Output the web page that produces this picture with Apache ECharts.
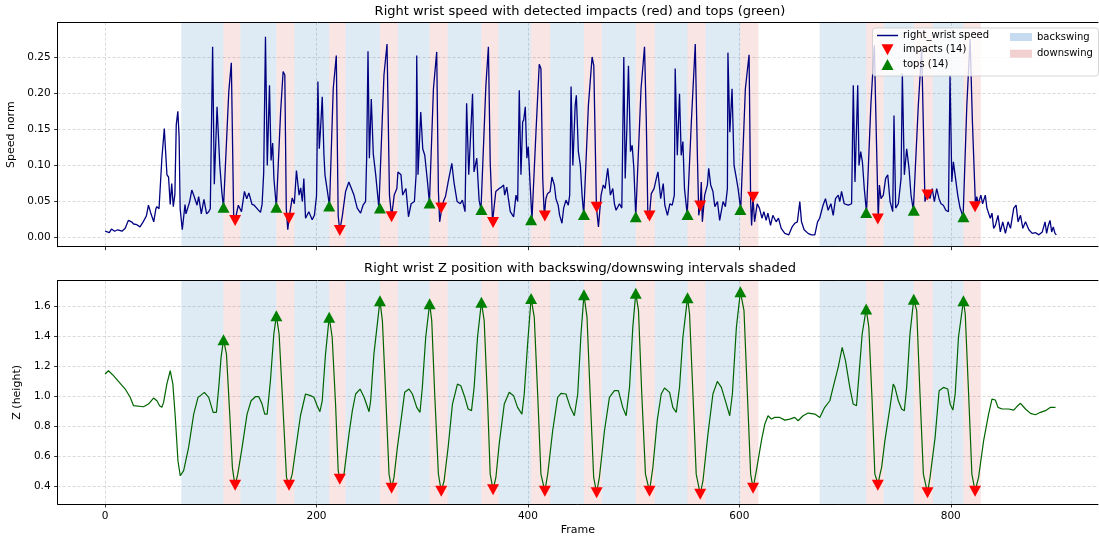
<!DOCTYPE html>
<html>
<head>
<meta charset="utf-8">
<title>Right wrist swings</title>
<script src="https://cdn.jsdelivr.net/npm/echarts@6.0.0/dist/echarts.min.js"></script>
<style>
  html, body { margin: 0; padding: 0; background: #fff; }
  #chart { width: 1099px; height: 536px; }
</style>
</head>
<body>
<div id="chart"></div>
<script>
// [frame, speed]
const speedTrace = [
  [0,0.009],[4,0.007],[6,0.012],[9,0.009],[12,0.011],[16,0.009],[19,0.013],[22,0.024],[25,0.022],[27,0.019],
  [30,0.018],[33,0.015],[36,0.022],[39,0.03],[41,0.045],[43,0.035],[46,0.022],[48,0.04],[49,0.043],[51,0.04],
  [53.7,0.11],[56,0.151],[57,0.125],[58.5,0.087],[60,0.084],[61.6,0.046],[63,0.075],[64.5,0.043],[66,0.06],[67.3,0.156],
  [68.8,0.175],[70,0.14],[71,0.04],[73,0.011],[75.6,0.046],[76.5,0.033],[77.7,0.035],[80,0.05],[82,0.066],[84,0.058],
  [87,0.045],[88.5,0.057],[91,0.033],[93.5,0.053],[96,0.033],[98,0.036],[99.5,0.04],[101.7,0.264],[103.3,0.074],[105.9,0.181],
  [108.5,0.1],[110.5,0.062],[112,0.042],[117,0.202],[119.4,0.242],[121.6,0.031],[123,0.024],[126,0.045],[127.7,0.046],[129,0.036],
  [131.8,0.064],[134,0.054],[136,0.062],[139,0.046],[141,0.045],[144,0.04],[147,0.035],[148.5,0.046],[150,0.089],[151.7,0.278],
  [153.4,0.1],[155.5,0.211],[157,0.107],[158.5,0.131],[159.7,0.082],[162,0.042],[166,0.173],[168.4,0.23],[170,0.225],[171.4,0.04],
  [172.8,0.011],[174,0.027],[177,0.055],[179,0.047],[181,0.093],[183.5,0.059],[185,0.069],[186.6,0.05],[188,0.082],[189.6,0.027],
  [192.7,0.036],[195.9,0.025],[198,0.031],[200,0.058],[201.3,0.216],[202.6,0.123],[203.8,0.15],[205.4,0.195],[207,0.115],[208,0.087],
  [209.4,0.073],[212.3,0.044],[215.8,0.206],[218.7,0.252],[220.5,0.03],[222,0.01],[224.4,0.03],[227.5,0.064],[230.6,0.077],[233,0.068],
  [235.4,0.059],[238.5,0.041],[241.7,0.034],[244,0.045],[246.4,0.05],[247.4,0.109],[248.7,0.258],[250,0.11],[251.8,0.192],[253.7,0.116],
  [256,0.087],[259,0.041],[263.8,0.225],[266.7,0.268],[269,0.059],[271,0.029],[273.5,0.059],[276,0.068],[277,0.091],[279.9,0.087],
  [281.5,0.059],[284.6,0.068],[287,0.029],[289.5,0.047],[292.6,0.05],[294.2,0.087],[294.8,0.252],[296,0.087],[298.6,0.174],[300.5,0.123],
  [302.4,0.114],[305,0.077],[306.8,0.048],[310.6,0.206],[313.7,0.257],[315.3,0.064],[316.5,0.022],[318.5,0.041],[320,0.05],[322,0.057],
  [324.5,0.077],[328,0.103],[330,0.077],[333,0.05],[336,0.047],[338,0.052],[340.5,0.036],[342,0.186],[344,0.087],[347.6,0.199],
  [349,0.091],[351.6,0.11],[353.8,0.052],[355.6,0.039],[360.2,0.21],[362.6,0.264],[364.3,0.105],[366.5,0.022],[369.6,0.064],[372.8,0.068],
  [375,0.07],[377,0.073],[378,0.059],[380,0.07],[381.5,0.054],[383.3,0.036],[386.5,0.029],[388.7,0.059],[390.3,0.05],[391.8,0.204],
  [393.4,0.087],[395,0.16],[396,0.163],[397.5,0.181],[399,0.11],[400.3,0.126],[402.2,0.07],[403.8,0.025],[407.6,0.146],[410.7,0.24],
  [412.3,0.234],[414,0.082],[415.5,0.03],[417,0.054],[418.5,0.061],[421,0.064],[422.7,0.084],[425,0.073],[426.5,0.054],[428.6,0.045],
  [430,0.031],[432.2,0.02],[433.8,0.041],[436,0.052],[438.2,0.045],[439.5,0.059],[440.8,0.209],[442.5,0.1],[444.7,0.183],[445.8,0.197],
  [447.7,0.119],[449.6,0.1],[451.2,0.059],[452.8,0.032],[457.2,0.183],[460.7,0.25],[462.3,0.238],[464.8,0.042],[466.7,0.015],[469.2,0.059],
  [471.3,0.073],[473,0.068],[475.5,0.096],[478,0.059],[480.3,0.068],[481.8,0.047],[483.4,0.038],[486.6,0.047],[488.8,0.041],[490.7,0.25],
  [492,0.082],[493.6,0.151],[495.1,0.238],[497,0.119],[498.6,0.128],[500.2,0.096],[502,0.029],[507,0.206],[510.3,0.264],[512,0.16],
  [513.5,0.027],[515,0.031],[516.7,0.061],[519.3,0.068],[521.5,0.082],[523,0.091],[525.6,0.054],[528,0.075],[529.5,0.045],[532,0.031],
  [534.3,0.047],[536.5,0.045],[538.5,0.059],[539.3,0.234],[541.3,0.114],[543.4,0.199],[545,0.114],[546.6,0.133],[548.1,0.068],[550.7,0.032],
  [554.6,0.16],[558.3,0.268],[560.3,0.114],[561.6,0.031],[563,0.045],[564,0.077],[565,0.022],[567.2,0.059],[569.8,0.073],[571,0.096],
  [572.9,0.073],[575,0.064],[576.8,0.043],[579.3,0.05],[581.4,0.024],[584.6,0.05],[586.8,0.043],[588.7,0.068],[589.2,0.256],[591,0.146],
  [593.1,0.206],[595,0.1],[597.2,0.082],[598.8,0.068],[601.3,0.039],[605.7,0.206],[609.2,0.253],[610.7,0.05],[611.6,0.017],[612.9,0.056],
  [614.4,0.022],[616.9,0.047],[619,0.041],[621.4,0.027],[623.2,0.036],[625.4,0.024],[627,0.034],[629.5,0.017],[631.7,0.031],[634.8,0.022],
  [637,0.027],[639.6,0.013],[643,0.006],[646.8,0.004],[649.9,0.015],[652.4,0.02],[654.9,0.022],[657.2,0.05],[658.8,0.022],[661.3,0.011],
  [665,0.006],[668.2,0.004],[671.4,0.004],[674,0.022],[676,0.027],[679.2,0.045],[681.5,0.054],[684,0.038],[686.6,0.047],[688.8,0.031],
  [691,0.054],[693.6,0.059],[695,0.05],[696.7,0.064],[699.2,0.047],[703,0.045],[706.2,0.047],[707.8,0.211],[709.4,0.077],[712,0.211],
  [713.2,0.1],[714.8,0.119],[716.4,0.105],[718.2,0.068],[720.3,0.035],[724.4,0.183],[727.7,0.266],[729.3,0.16],[731.4,0.026],[732.5,0.073],
  [734,0.054],[736.2,0.059],[738.4,0.082],[740.4,0.087],[742.6,0.05],[745.1,0.036],[746.3,0.169],[747.9,0.041],[750.4,0.047],[753,0.082],
  [754.2,0.227],[756.1,0.087],[758.3,0.123],[760.5,0.096],[762.4,0.059],[764.6,0.038],[769.3,0.183],[772.5,0.261],[774,0.16],[775.6,0.05],
  [777.6,0.059],[778.8,0.064],[780.3,0.054],[782.5,0.068],[784.5,0.05],[786.7,0.068],[788.9,0.054],[790.8,0.047],[793,0.045],[795.3,0.038],
  [797.8,0.036],[799.3,0.225],[801,0.077],[802.5,0.105],[804.1,0.087],[806.6,0.059],[808.8,0.041],[811.7,0.029],[815.2,0.183],[818.3,0.275],
  [820.5,0.16],[823.4,0.043],[824.6,0.057],[826,0.047],[828.5,0.059],[830.1,0.047],[832.7,0.059],[834.2,0.041],[835.8,0.043],[837.4,0.027],
  [839,0.034],[840.6,0.013],[842.2,0.017],[844.7,0.031],[846.9,0.008],[849.2,0.022],[851.7,0.006],[854.2,0.022],[856.5,0.013],[859.6,0.041],
  [861.8,0.045],[863.7,0.022],[866,0.031],[868.2,0.013],[870.7,0.022],[873.9,0.011],[877.1,0.006],[880.3,0.007],[883.4,0.004],[886.6,0.008],
  [889.2,0.022],[890.7,0.006],[892.3,0.017],[893.9,0.024],[895.5,0.008],[897,0.015],[898.6,0.006],[899.9,0.004]
];

// [frame, z]
const heightTrace = [
  [0,1.151],[3.2,1.173],[7.9,1.14],[19,1.051],[23.7,0.996],[26.9,0.94],[36.3,0.933],[41,0.951],[45.8,0.991],[49,0.973],
  [51.5,0.94],[53.7,0.929],[55.3,0.962],[58.4,1.084],[61.6,1.173],[64.1,1.084],[66.4,0.862],[68.9,0.573],[71.1,0.473],[74.3,0.507],
  [79,0.662],[83.8,0.884],[87.9,0.996],[90.1,1.007],[93.9,1.029],[98,0.996],[102.2,0.896],[105.3,0.896],[107.5,1.062],[109.7,1.262],
  [112,1.38],[114.8,1.284],[117.9,0.884],[120.4,0.529],[121.7,0.462],[123,0.41],[125.5,0.484],[129.6,0.662],[134.3,0.884],[138.1,0.973],
  [142.2,1.0],[145.4,1.0],[148.5,0.951],[151,0.884],[153.3,0.884],[156.4,1.107],[159.6,1.418],[162,1.54],[164.6,1.418],[168.4,0.907],
  [171.6,0.462],[174,0.41],[177,0.484],[180.1,0.64],[184.8,0.873],[189.6,1.018],[194.3,1.007],[197.5,0.996],[200.6,0.94],[203.2,0.9],
  [205.4,0.973],[208.5,1.284],[212,1.53],[214.8,1.396],[218,0.951],[220.5,0.507],[222,0.45],[226,0.484],[230.7,0.751],[233.9,0.907],
  [237,1.018],[241.2,1.051],[245,0.996],[249.7,0.9],[251.2,0.973],[254.3,1.284],[260,1.64],[262.3,1.507],[265.4,1.018],[268.6,0.484],
  [271,0.39],[273.3,0.462],[276.5,0.662],[280.3,0.862],[283.4,1.029],[287.5,1.051],[290.7,1.018],[294.8,0.929],[297.9,0.896],[300.1,1.062],
  [303.3,1.396],[307,1.62],[309,1.507],[311.8,1.018],[315.3,0.484],[318,0.37],[320.7,0.44],[324.5,0.662],[328.6,0.951],[333.3,1.084],
  [336.5,1.073],[340.3,0.996],[343.4,0.918],[346.6,0.907],[349.1,1.062],[352.3,1.396],[356,1.63],[358.6,1.507],[361.8,0.973],[364.3,0.484],
  [367,0.38],[369.7,0.462],[372.8,0.684],[377.6,0.951],[382.3,1.029],[386.4,1.007],[390.2,0.929],[394.3,0.884],[396.5,1.018],[399.7,1.351],
  [403,1.655],[406,1.529],[409.2,1.018],[412.3,0.484],[416,0.37],[418.7,0.484],[423.4,0.773],[428.1,0.996],[431.3,1.022],[436,1.018],
  [440.1,0.929],[443.9,0.873],[447.1,1.018],[450.2,1.418],[453,1.68],[455.9,1.529],[459.1,0.973],[462.2,0.462],[465,0.36],[467.6,0.462],
  [472.4,0.773],[477.1,0.996],[481.8,1.04],[485.6,1.04],[489.7,0.929],[492.9,0.873],[496.1,1.062],[499.2,1.462],[502,1.69],[504.6,1.573],
  [507.7,1.018],[511.2,0.484],[515,0.37],[518.2,0.529],[522.3,0.84],[526.1,1.018],[529.2,1.058],[534,1.029],[537.1,0.929],[540.3,0.896],
  [543.4,1.062],[546.6,1.396],[551,1.66],[552.9,1.551],[556.1,1.018],[559.2,0.484],[563,0.35],[565.6,0.44],[570.3,0.751],[575,1.018],
  [579.2,1.102],[583,1.062],[587.7,0.951],[590.9,0.873],[593.4,1.018],[597.2,1.462],[601,1.7],[604.4,1.573],[607.6,1.018],[610.7,0.484],
  [613,0.39],[616.1,0.507],[620.9,0.707],[624.1,0.818],[627.2,0.873],[630.3,0.851],[633.5,0.862],[638.2,0.862],[643,0.844],[647.7,0.851],
  [652.4,0.862],[655.6,0.84],[660.3,0.873],[665.1,0.891],[671.4,0.884],[676.1,0.862],[680.8,0.929],[685.6,0.973],[688.7,1.062],[693.5,1.196],
  [697.3,1.329],[700.4,1.24],[704.5,1.062],[707.7,0.951],[710.8,0.94],[713,1.129],[716.2,1.418],[720,1.585],[722.5,1.462],[725.6,0.973],
  [728.2,0.484],[729.8,0.45],[731,0.41],[733,0.48],[734.6,0.529],[737.7,0.707],[742.5,0.929],[745.6,1.084],[747.2,1.062],[750.4,0.973],
  [753.5,0.918],[756.1,0.907],[758.3,1.062],[761.4,1.418],[765,1.65],[767.8,1.573],[770.9,1.018],[774.1,0.484],[778,0.36],[780.4,0.462],
  [785.2,0.729],[789,1.04],[793.1,1.062],[797.2,1.051],[799.4,0.951],[802,0.911],[804.2,1.018],[807.3,1.396],[812,1.64],[813.7,1.551],
  [816.9,1.018],[820,0.484],[823,0.37],[826.3,0.462],[831.1,0.707],[835.8,0.884],[839,0.984],[842.2,0.978],[844.7,0.929],[848.5,0.918],
  [854.9,0.918],[859.6,0.911],[862.8,0.936],[866,0.956],[870.7,0.918],[875.4,0.889],[880.1,0.88],[884.9,0.896],[889.6,0.907],[894.4,0.929],
  [899.1,0.929]
];

// detected events
const topFrames    = [112, 162, 212, 260, 307, 356, 403, 453, 502, 551, 601, 720, 765, 812];
const topSpeed     = [0.042, 0.042, 0.044, 0.041, 0.048, 0.039, 0.025, 0.032, 0.029, 0.032, 0.039, 0.035, 0.038, 0.029];
const topHeight    = [1.38, 1.54, 1.53, 1.64, 1.62, 1.63, 1.655, 1.68, 1.69, 1.66, 1.70, 1.585, 1.65, 1.64];
const impactFrames = [123, 174, 222, 271, 318, 367, 416, 465, 515, 563, 613, 731, 778, 823];
const impactSpeed  = [0.024, 0.027, 0.01, 0.029, 0.041, 0.021, 0.03, 0.042, 0.03, 0.044, 0.056, 0.026, 0.059, 0.043];
const impactHeight = [0.41, 0.41, 0.45, 0.39, 0.37, 0.38, 0.37, 0.36, 0.37, 0.35, 0.39, 0.41, 0.36, 0.37];

// phase intervals (frames)
const backswingStart = [72, 128, 179, 227.5, 277, 324, 372, 421, 470, 520, 568, 676, 736.5, 783];
const backswingEnd   = [112, 162, 212, 260, 307, 356, 403, 453, 502, 551, 601, 720, 765, 812];
const downswingStart = [112, 162, 212, 260, 307, 356, 403, 453, 502, 551, 601, 720, 765, 812];
const downswingEnd   = [128, 179, 227.5, 277, 324, 372, 421, 470, 520, 568, 618, 736.5, 783, 828.4];

const xTicks = [0, 200, 400, 600, 800];
const speedTicks = [0, 0.05, 0.10, 0.15, 0.20, 0.25];
const heightTicks = [0.4, 0.6, 0.8, 1.0, 1.2, 1.4, 1.6];

const font = 'DejaVu Sans';
const impactsName = 'impacts (' + impactFrames.length + ')';
const topsName = 'tops (' + topFrames.length + ')';

const pair = (xs, ys) => xs.map((x, i) => [x, ys[i]]);
const spans = (a, b) => a.map((s, i) => [{xAxis: s}, {xAxis: b[i]}]);

// the figure is cropped on the right, so the visible x range ends a bit before matplotlib's 943.95
const xMin = -44.95, xMax = 939.3;

const gridLine = {show: true, lineStyle: {color: 'rgba(176,176,176,0.6)', type: [3, 2], width: 0.8}};
const spine = {show: true, onZero: false, lineStyle: {color: '#000', width: 1}};
const tickStyle = {color: '#000', width: 0.8};
const labelStyle = {color: '#000', fontSize: 10.5, fontFamily: font};
const nameStyle = {color: '#000', fontSize: 11, fontFamily: font};

function xAxisFor(idx, withLabels) {
  return {
    type: 'value', gridIndex: idx, min: xMin, max: xMax, position: 'bottom',
    axisLine: spine,
    axisTick: {show: true, inside: false, length: 3.5, customValues: xTicks, lineStyle: tickStyle},
    axisLabel: Object.assign({show: withLabels, customValues: xTicks, margin: 6.5}, labelStyle),
    splitLine: gridLine,
    name: withLabels ? 'Frame' : '', nameLocation: 'middle', nameGap: 21,
    nameTextStyle: nameStyle
  };
}

// top spine only
function topSpine(idx) {
  return {
    type: 'value', gridIndex: idx, min: xMin, max: xMax, position: 'top',
    axisLine: spine, axisTick: {show: false}, axisLabel: {show: false}, splitLine: {show: false}
  };
}

function yAxisFor(idx, lo, hi, ticks, digits, title) {
  return {
    type: 'value', gridIndex: idx, min: lo, max: hi,
    axisLine: spine,
    axisTick: {show: true, inside: false, length: 3.5, customValues: ticks, lineStyle: tickStyle},
    axisLabel: Object.assign({customValues: ticks, margin: 7, formatter: v => v.toFixed(digits)}, labelStyle),
    splitLine: gridLine,
    name: title, nameLocation: 'middle', nameGap: 28, nameRotate: 90,
    nameTextStyle: nameStyle
  };
}

function shade(name, idx, starts, ends, color) {
  return {
    name, type: 'line', xAxisIndex: idx, yAxisIndex: idx, data: [], z: 1,
    markArea: {silent: true, itemStyle: {color}, label: {show: false}, data: spans(starts, ends)}
  };
}

function markers(name, idx, frames, values, color, rotate) {
  return {
    name, type: 'scatter', xAxisIndex: idx, yAxisIndex: idx, data: pair(frames, values),
    symbol: 'triangle', symbolRotate: rotate, symbolSize: [12, 11], z: 4,
    itemStyle: {color, opacity: 1}
  };
}

const blueShade = 'rgba(31,119,180,0.15)';
const pinkShade = 'rgba(214,39,40,0.12)';

const chart = echarts.init(document.getElementById('chart'), null, {renderer: 'canvas'});
chart.setOption({
  animation: false,
  backgroundColor: '#fff',
  textStyle: {fontFamily: font},
  title: [
    {text: 'Right wrist speed with detected impacts (red) and tops (green)', left: 580, top: 5, textAlign: 'center', padding: 0,
     textStyle: {fontFamily: font, fontSize: 13, fontWeight: 'normal', color: '#000'}},
    {text: 'Right wrist Z position with backswing/downswing intervals shaded', left: 580, top: 262, textAlign: 'center', padding: 0,
     textStyle: {fontFamily: font, fontSize: 13, fontWeight: 'normal', color: '#000'}}
  ],
  grid: [
    {left: 57.6, top: 22.7, right: 1, height: 224, outerBoundsMode: 'none', containLabel: false, show: false},
    {left: 57.6, top: 280.7, right: 1, height: 223.3, outerBoundsMode: 'none', containLabel: false, show: false}
  ],
  xAxis: [xAxisFor(0, false), xAxisFor(1, true), topSpine(0), topSpine(1)],
  yAxis: [
    yAxisFor(0, -0.0124, 0.2974, speedTicks, 2, 'Speed norm'),
    yAxisFor(1, 0.285, 1.773, heightTicks, 1, 'Z (height)')
  ],
  legend: [
    {orient: 'vertical', left: 877, top: 30.5, padding: 0, itemWidth: 21, itemHeight: 11, itemGap: 3.7, selectedMode: false, z: 10,
     textStyle: {fontFamily: font, fontSize: 10, color: '#000'},
     data: [
       {name: 'right_wrist speed', icon: 'path://M0,0H20V1.4H0Z', itemStyle: {color: '#000080'}},
       {name: impactsName, icon: 'path://M0,0H12L6,11Z', itemStyle: {color: '#ff0000'}},
       {name: topsName, icon: 'path://M6,0L12,11H0Z', itemStyle: {color: '#008000'}}
     ]},
    {orient: 'vertical', left: 1010, top: 32, padding: 0, itemWidth: 22, itemHeight: 8, itemGap: 6.7, selectedMode: false, z: 10,
     textStyle: {fontFamily: font, fontSize: 10, color: '#000'},
     data: [
       {name: 'backswing', icon: 'rect', itemStyle: {color: '#c6dbef'}},
       {name: 'downswing', icon: 'rect', itemStyle: {color: '#f2d0d0'}}
     ]}
  ],
  graphic: [
    {type: 'rect', left: 872, top: 27.5, z: 8, silent: true,
     shape: {width: 226, height: 48, r: 3},
     style: {fill: 'rgba(255,255,255,0.8)', stroke: 'rgba(204,204,204,0.8)', lineWidth: 1}}
  ],
  series: [
    shade('backswing', 0, backswingStart, backswingEnd, blueShade),
    shade('downswing', 0, downswingStart, downswingEnd, pinkShade),
    shade('backswing', 1, backswingStart, backswingEnd, blueShade),
    shade('downswing', 1, downswingStart, downswingEnd, pinkShade),
    {name: 'right_wrist speed', type: 'line', xAxisIndex: 0, yAxisIndex: 0, data: speedTrace,
     showSymbol: false, symbol: 'none', z: 3, lineStyle: {color: '#000080', width: 1.3}, itemStyle: {color: '#000080'}},
    markers(impactsName, 0, impactFrames, impactSpeed, '#ff0000', 180),
    markers(topsName, 0, topFrames, topSpeed, '#008000', 0),
    {name: 'right_wrist z', type: 'line', xAxisIndex: 1, yAxisIndex: 1, data: heightTrace,
     showSymbol: false, symbol: 'none', z: 3, lineStyle: {color: '#006400', width: 1.2}, itemStyle: {color: '#006400'}},
    markers(impactsName, 1, impactFrames, impactHeight, '#ff0000', 180),
    markers(topsName, 1, topFrames, topHeight, '#008000', 0)
  ]
});
</script>
</body>
</html>
